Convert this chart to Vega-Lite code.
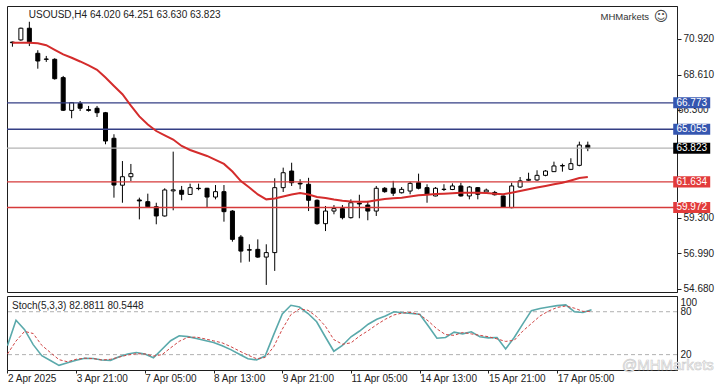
{
  "$schema": "https://vega.github.io/schema/vega-lite/v6.json",
  "background": "white",
  "padding": {"left": 5, "top": 5, "right": 0, "bottom": 0},
  "spacing": 0,
  "config": {
    "font": "Liberation Sans",
    "view": {"stroke": "#1e1e1e", "strokeWidth": 1},
    "axis": {"labelFont": "Liberation Sans", "labelFontSize": 10, "labelColor": "#222222", "tickColor": "#222222", "domainColor": "#222222", "grid": false}
  },
  "datasets": {
    "bars": [
      {"i":0,"o":70.72,"h":70.75,"l":70.42,"c":70.68,"ma":70.68,"k":32.5,"d":20.8},
      {"i":1,"o":70.86,"h":71.66,"l":70.80,"c":71.62,"ma":70.68,"k":68,"d":39},
      {"i":2,"o":71.62,"h":72.04,"l":70.46,"c":70.74,"ma":70.68,"k":55,"d":52.5},
      {"i":3,"o":69.99,"h":70.19,"l":68.99,"c":69.49,"ma":70.64,"k":34,"d":49.5},
      {"i":4,"o":69.62,"h":69.82,"l":69.43,"c":69.60,"ma":70.52,"k":18.5,"d":33},
      {"i":5,"o":69.60,"h":69.67,"l":68.28,"c":68.34,"ma":70.22,"k":11.8,"d":23},
      {"i":6,"o":68.41,"h":68.52,"l":66.24,"c":66.29,"ma":69.92,"k":5,"d":13},
      {"i":7,"o":66.28,"h":66.80,"l":65.77,"c":66.78,"ma":69.70,"k":8.5,"d":10},
      {"i":8,"o":66.72,"h":66.89,"l":66.24,"c":66.42,"ma":69.46,"k":12,"d":13.5},
      {"i":9,"o":66.33,"h":66.57,"l":66.20,"c":66.28,"ma":69.20,"k":15,"d":15},
      {"i":10,"o":66.42,"h":66.57,"l":65.85,"c":66.13,"ma":68.92,"k":14.5,"d":14.5},
      {"i":11,"o":66.13,"h":66.18,"l":64.08,"c":64.29,"ma":68.42,"k":12.5,"d":12.5},
      {"i":12,"o":64.47,"h":64.73,"l":60.61,"c":61.43,"ma":67.87,"k":12,"d":13.5},
      {"i":13,"o":61.42,"h":62.99,"l":60.28,"c":61.97,"ma":67.33,"k":17,"d":16.5},
      {"i":14,"o":61.97,"h":62.80,"l":61.69,"c":62.17,"ma":66.59,"k":21,"d":19.5},
      {"i":15,"o":60.46,"h":60.61,"l":59.20,"c":60.40,"ma":65.89,"k":23,"d":21.2},
      {"i":16,"o":60.35,"h":60.87,"l":59.96,"c":60.02,"ma":65.36,"k":21,"d":21},
      {"i":17,"o":60.02,"h":60.28,"l":58.88,"c":59.42,"ma":64.94,"k":15.5,"d":18},
      {"i":18,"o":59.42,"h":61.22,"l":59.38,"c":61.11,"ma":64.66,"k":27.5,"d":20},
      {"i":19,"o":61.05,"h":63.60,"l":59.79,"c":61.12,"ma":64.39,"k":39.5,"d":29.5},
      {"i":20,"o":61.09,"h":61.37,"l":60.44,"c":60.83,"ma":63.97,"k":46.4,"d":38.6},
      {"i":21,"o":60.82,"h":61.52,"l":60.80,"c":61.26,"ma":63.71,"k":45.2,"d":44.2},
      {"i":22,"o":61.22,"h":61.52,"l":61.09,"c":61.20,"ma":63.51,"k":42.5,"d":44.5},
      {"i":23,"o":61.22,"h":61.25,"l":60.00,"c":60.65,"ma":63.32,"k":39.8,"d":42},
      {"i":24,"o":60.65,"h":61.43,"l":60.50,"c":61.00,"ma":63.07,"k":37,"d":39.3},
      {"i":25,"o":61.00,"h":61.43,"l":59.05,"c":59.70,"ma":62.80,"k":32.5,"d":36.5},
      {"i":26,"o":59.74,"h":59.80,"l":57.75,"c":57.90,"ma":62.31,"k":27,"d":31.2},
      {"i":27,"o":58.05,"h":58.18,"l":56.39,"c":57.14,"ma":61.69,"k":20.5,"d":25.1},
      {"i":28,"o":57.23,"h":57.58,"l":56.45,"c":57.20,"ma":61.27,"k":14.3,"d":19.3},
      {"i":29,"o":57.25,"h":57.90,"l":56.70,"c":56.75,"ma":60.82,"k":12.6,"d":14.3},
      {"i":30,"o":56.75,"h":57.58,"l":54.94,"c":57.04,"ma":60.50,"k":18,"d":16},
      {"i":31,"o":57.04,"h":61.87,"l":55.85,"c":61.26,"ma":60.56,"k":48,"d":31},
      {"i":32,"o":61.26,"h":62.56,"l":60.98,"c":62.23,"ma":60.69,"k":77,"d":55.6},
      {"i":33,"o":62.34,"h":62.88,"l":61.37,"c":61.58,"ma":60.82,"k":89,"d":76},
      {"i":34,"o":61.55,"h":61.81,"l":61.16,"c":61.50,"ma":60.91,"k":86.5,"d":84},
      {"i":35,"o":61.48,"h":61.90,"l":59.74,"c":60.44,"ma":60.82,"k":77.5,"d":82},
      {"i":36,"o":60.44,"h":60.50,"l":58.85,"c":58.92,"ma":60.65,"k":66,"d":73},
      {"i":37,"o":58.92,"h":60.07,"l":58.44,"c":59.74,"ma":60.59,"k":45,"d":60},
      {"i":38,"o":59.74,"h":60.13,"l":59.53,"c":59.90,"ma":60.49,"k":24.7,"d":41},
      {"i":39,"o":59.90,"h":60.13,"l":59.20,"c":59.31,"ma":60.41,"k":32.8,"d":34.5},
      {"i":40,"o":59.31,"h":60.50,"l":59.25,"c":60.28,"ma":60.36,"k":45,"d":36.5},
      {"i":41,"o":60.25,"h":60.80,"l":59.27,"c":60.20,"ma":60.35,"k":53,"d":46},
      {"i":42,"o":60.13,"h":60.40,"l":59.14,"c":59.74,"ma":60.35,"k":62.5,"d":53.5},
      {"i":43,"o":59.74,"h":61.37,"l":59.42,"c":61.22,"ma":60.44,"k":69.5,"d":62},
      {"i":44,"o":61.22,"h":61.30,"l":60.93,"c":61.00,"ma":60.52,"k":74,"d":69.5},
      {"i":45,"o":61.22,"h":61.70,"l":60.72,"c":60.90,"ma":60.57,"k":80,"d":75.5},
      {"i":46,"o":60.93,"h":61.30,"l":60.88,"c":61.15,"ma":60.61,"k":78.5,"d":78.3},
      {"i":47,"o":61.04,"h":61.65,"l":60.83,"c":61.54,"ma":60.69,"k":77.5,"d":79},
      {"i":48,"o":61.58,"h":62.17,"l":61.15,"c":61.22,"ma":60.76,"k":76.5,"d":76},
      {"i":49,"o":61.26,"h":61.48,"l":60.28,"c":60.83,"ma":60.80,"k":60,"d":67},
      {"i":50,"o":60.72,"h":61.30,"l":60.70,"c":61.22,"ma":60.85,"k":43,"d":56},
      {"i":51,"o":61.16,"h":61.48,"l":61.04,"c":61.14,"ma":60.87,"k":44,"d":48},
      {"i":52,"o":61.14,"h":61.54,"l":61.10,"c":61.37,"ma":60.90,"k":51.5,"d":47},
      {"i":53,"o":61.37,"h":61.58,"l":60.68,"c":60.72,"ma":60.93,"k":49,"d":51},
      {"i":54,"o":60.72,"h":61.37,"l":60.50,"c":61.30,"ma":60.93,"k":52,"d":49},
      {"i":55,"o":61.26,"h":61.30,"l":60.50,"c":60.83,"ma":60.93,"k":45,"d":47},
      {"i":56,"o":60.98,"h":61.20,"l":60.85,"c":61.10,"ma":60.91,"k":43.5,"d":45},
      {"i":57,"o":60.95,"h":61.05,"l":60.75,"c":60.80,"ma":60.87,"k":44,"d":42},
      {"i":58,"o":60.72,"h":60.75,"l":59.95,"c":60.00,"ma":60.83,"k":28,"d":38.5},
      {"i":59,"o":59.96,"h":61.58,"l":59.92,"c":61.37,"ma":60.93,"k":44,"d":40},
      {"i":60,"o":61.30,"h":61.95,"l":61.25,"c":61.70,"ma":61.04,"k":63,"d":53},
      {"i":61,"o":61.74,"h":62.23,"l":61.70,"c":61.80,"ma":61.15,"k":81.5,"d":63.5},
      {"i":62,"o":61.76,"h":62.39,"l":61.70,"c":62.06,"ma":61.27,"k":84.5,"d":74},
      {"i":63,"o":62.06,"h":62.40,"l":62.00,"c":62.34,"ma":61.37,"k":86.5,"d":81},
      {"i":64,"o":62.30,"h":62.95,"l":62.28,"c":62.67,"ma":61.48,"k":88.5,"d":86},
      {"i":65,"o":62.67,"h":62.82,"l":62.30,"c":62.70,"ma":61.58,"k":89.5,"d":88},
      {"i":66,"o":62.45,"h":63.17,"l":62.40,"c":62.82,"ma":61.73,"k":80,"d":85},
      {"i":67,"o":62.71,"h":64.25,"l":62.65,"c":64.03,"ma":61.89,"k":79,"d":80.5},
      {"i":68,"o":64.02,"h":64.251,"l":63.63,"c":63.823,"ma":61.95,"k":82.88,"d":80.54}
    ],
    "levels": [
      {"p":66.773,"kind":"upper"},
      {"p":65.055,"kind":"upper"},
      {"p":63.823,"kind":"last"},
      {"p":61.634,"kind":"lower"},
      {"p":59.972,"kind":"lower"}
    ],
    "hidden": [{"p":66.3}],
    "stochLevels": [{"v":80},{"v":20}],
    "one": [{"n":1}]
  },
  "vconcat": [
    {
      "width": 670,
      "height": 286,
      "encoding": {
        "x": {"type": "quantitative", "scale": {"domain": [-0.05, 77.95], "nice": false, "zero": false}, "axis": null},
        "y": {"type": "quantitative", "scale": {"domain": [54.48, 73.064], "nice": false, "zero": false},
          "axis": {"orient": "right", "title": null, "values": [70.92, 68.61, 66.3, 63.99, 61.68, 59.3, 56.99, 54.68], "tickSize": 4, "labelPadding": 2,
            "labelExpr": "(abs(datum.value - 66.3) < 0.01 || abs(datum.value - 63.99) < 0.01 || abs(datum.value - 61.68) < 0.01) ? '' : format(datum.value, '.3f')"}}
      },
      "layer": [
        {
          "data": {"name": "bars"},
          "mark": {"type": "rule", "color": "#000000", "strokeWidth": 1, "clip": true},
          "encoding": {
            "x": {"field": "i"},
            "y": {"field": "l"},
            "y2": {"field": "h"}
          }
        },
        {
          "data": {"name": "bars"},
          "mark": {"type": "bar", "orient": "vertical", "size": 4, "stroke": "#000000", "strokeWidth": 1, "clip": true},
          "encoding": {
            "x": {"field": "i"},
            "y": {"field": "o"},
            "y2": {"field": "c"},
            "fill": {"condition": {"test": "datum.c >= datum.o", "value": "#ffffff"}, "value": "#000000"}
          }
        },
        {
          "data": {"name": "levels"},
          "mark": {"type": "rule", "strokeWidth": 1.3},
          "encoding": {
            "x": null,
            "y": {"field": "p"},
            "stroke": {"field": "kind", "type": "nominal", "scale": {"domain": ["upper", "last", "lower"], "range": ["#343f85", "#b4b4b4", "#d63a3a"]}, "legend": null}
          }
        },
        {
          "data": {"name": "bars"},
          "mark": {"type": "line", "color": "#d42c2c", "strokeWidth": 2, "clip": true},
          "encoding": {
            "x": {"field": "i"},
            "y": {"field": "ma"}
          }
        },
        {
          "data": {"name": "hidden"},
          "mark": {"type": "text", "color": "#222222", "fontSize": 10, "font": "Liberation Sans", "align": "left", "baseline": "middle", "clip": false},
          "encoding": {
            "x": {"datum": 78.65},
            "y": {"field": "p"},
            "text": {"field": "p", "type": "quantitative", "format": ".3f"}
          }
        },
        {
          "data": {"name": "levels"},
          "mark": {"type": "point", "shape": "M-1,-0.3H1V0.3H-1Z", "size": 1369, "filled": true, "opacity": 1, "strokeWidth": 0, "clip": false},
          "encoding": {
            "x": {"datum": 80.28},
            "y": {"field": "p"},
            "fill": {"field": "kind", "type": "nominal", "scale": {"domain": ["upper", "last", "lower"], "range": ["#3556b0", "#000000", "#e23b3b"]}, "legend": null}
          }
        },
        {
          "data": {"name": "levels"},
          "mark": {"type": "text", "color": "#ffffff", "fontSize": 10, "font": "Liberation Sans", "align": "center", "baseline": "middle", "clip": false},
          "encoding": {
            "x": {"datum": 80.28},
            "y": {"field": "p"},
            "text": {"field": "p", "type": "quantitative", "format": ".3f"}
          }
        },
        {
          "data": {"name": "one"},
          "mark": {"type": "text", "color": "#222222", "fontSize": 10, "font": "Liberation Sans", "align": "left", "baseline": "middle"},
          "encoding": {
            "x": {"datum": 1.93},
            "y": {"datum": 72.447},
            "text": {"value": "USOUSD,H4  64.020 64.251 63.630 63.823"}
          }
        },
        {
          "data": {"name": "one"},
          "mark": {"type": "text", "color": "#333333", "fontSize": 9.5, "font": "Liberation Sans", "align": "right", "baseline": "middle"},
          "encoding": {
            "x": {"datum": 75.24},
            "y": {"datum": 72.37},
            "text": {"value": "MHMarkets"}
          }
        },
        {
          "data": {"name": "one"},
          "mark": {"type": "text", "color": "#444444", "fontSize": 14, "font": "DejaVu Sans", "align": "center", "baseline": "middle"},
          "encoding": {
            "x": {"datum": 76.67},
            "y": {"datum": 72.37},
            "text": {"value": "☺"}
          }
        }
      ]
    },
    {
      "width": 670,
      "height": 74,
      "encoding": {
        "x": {"type": "quantitative", "scale": {"domain": [-0.05, 77.95], "nice": false, "zero": false},
          "axis": {"orient": "bottom", "title": null, "values": [0, 8, 16, 24, 32, 40, 48, 56, 64], "labelExpr": "['2 Apr 2025','3 Apr 21:00','7 Apr 05:00','8 Apr 13:00','9 Apr 21:00','11 Apr 05:00','14 Apr 13:00','15 Apr 21:00','17 Apr 05:00'][round(datum.value/8)]", "labelAlign": "left", "labelFlush": false, "tickSize": 3, "labelPadding": 0, "domain": false}},
        "y": {"type": "quantitative", "scale": {"domain": [-1.5, 102], "nice": false, "zero": false},
          "axis": {"orient": "right", "title": null, "values": [100, 80, 20], "tickSize": 0, "labelPadding": 3, "labelOverlap": false, "domain": true,
            "labelBaseline": {"condition": {"test": "datum.value == 100", "value": "top"}, "value": "middle"}}}
      },
      "layer": [
        {
          "data": {"name": "stochLevels"},
          "mark": {"type": "rule", "color": "#b0b0b0", "strokeWidth": 1, "strokeDash": [4, 3]},
          "encoding": {
            "x": null,
            "y": {"field": "v"}
          }
        },
        {
          "data": {"name": "bars"},
          "mark": {"type": "line", "color": "#5aa9ab", "strokeWidth": 1.6, "clip": true},
          "encoding": {
            "x": {"field": "i"},
            "y": {"field": "k"}
          }
        },
        {
          "data": {"name": "bars"},
          "mark": {"type": "line", "color": "#d04444", "strokeWidth": 1, "strokeDash": [3, 2], "clip": true},
          "encoding": {
            "x": {"field": "i"},
            "y": {"field": "d"}
          }
        },
        {
          "data": {"name": "one"},
          "mark": {"type": "text", "color": "#222222", "fontSize": 10, "font": "Liberation Sans", "align": "left", "baseline": "middle"},
          "encoding": {
            "x": {"datum": 0.53},
            "y": {"datum": 88.3},
            "text": {"value": "Stoch(5,3,3) 82.8811 80.5448"}
          }
        },
        {
          "data": {"name": "one"},
          "mark": {"type": "text", "color": "#ffffff", "stroke": "#c8c8c8", "strokeWidth": 0.6, "fontSize": 15, "font": "Liberation Sans", "align": "left", "baseline": "middle", "clip": false},
          "encoding": {
            "x": {"datum": 71.54},
            "y": {"datum": 5.5},
            "text": {"value": "@MHMarkets"}
          }
        }
      ]
    }
  ]
}
